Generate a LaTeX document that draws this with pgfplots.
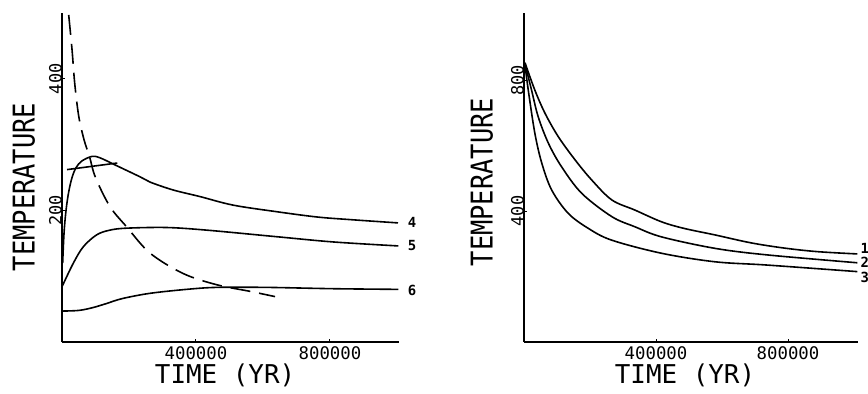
\documentclass[border=0pt]{standalone}
\usepackage{pgfplots}
\pgfplotsset{compat=1.18}
\usepackage{fontspec}
\setmainfont{DejaVu Sans Mono}

\tikzset{
  tag/.style={font=\fontsize{14}{14}\bfseries\selectfont, anchor=center},
  temp label/.style={font=\fontsize{25.5}{26}\selectfont, anchor=center},
  time label/.style={font=\fontsize{26}{27}\selectfont, anchor=center},
}

% shared look of the two cooling-history panels
\pgfplotsset{
  panel/.style={
    scale only axis,
    clip=false,
    axis x line=bottom, axis y line=left,
    x axis line style={-, line width=1.2bp},
    y axis line style={-, line width=1.2bp},
    xmin=0, ymin=0,
    width=337bp, height=329bp,
    scaled x ticks=false, scaled y ticks=false,
    xtick={400000,800000}, xticklabels={400000,800000},
    tick align=inside, major tick length=3bp,
    tick style={line width=1bp, black},
    xticklabel style={anchor=north, inner sep=0pt, yshift=-4.6bp,
      font=\fontsize{17.4}{18}\selectfont},
    yticklabel style={rotate=90, anchor=south, inner sep=0pt,
      font=\fontsize{17}{18}\selectfont},
    /pgf/number format/assume math mode=true,
    cycle list={{black}},
    every axis plot post/.append style={black, no markers, line width=1.6bp,
      smooth, tension=0.55},
  },
}

\begin{document}
\begin{tikzpicture}
\useasboundingbox (0bp,0bp) rectangle (868bp,394bp);

% ---------------- left panel: curves 4, 5, 6 ----------------
\begin{axis}[panel,
  at={(62bp,52bp)}, anchor=south west,
  xmax=1006000, ymax=500,
  ytick={200,400}, yticklabels={200,400},
  xlabel={TIME (YR)},
  xlabel style={time label, at={(axis description cs:0.484,-0.1)}},
  ylabel={\scalebox{1}[1.18]{TEMPERATURE}},
  ylabel style={temp label, at={(axis description cs:-0.113,0.471)}},
]
% curve 4
\addplot coordinates {
  (2000,120) (6000,165) (12000,200) (20000,228) (30000,250) (42000,265)
  (59000,275) (89000,282) (113000,280) (163000,268) (233000,251)
  (263000,243) (332000,231) (412000,221) (511000,208) (641000,198)
  (761000,190) (860000,186) (1003000,181)
};
% curve 5
\addplot coordinates {
  (0,84) (34000,120) (64000,145) (104000,163) (143000,170) (193000,173)
  (312000,174) (432000,170) (641000,160) (811000,152) (1004000,146)
};
% curve 6
\addplot coordinates {
  (0,47) (50000,48) (90000,52) (130000,58) (180000,66) (263000,74)
  (372000,80) (462000,83) (611000,83) (810000,81) (1004000,80)
};
% short straight stroke near the peak of curve 4
\addplot[line width=1bp, sharp plot] coordinates {(15000,262) (165000,272)};
% dashed curve
\addplot[dash pattern=on 20bp off 9bp] coordinates {
  (20000,497) (30000,444) (38000,393) (50000,343) (66000,307) (82000,282)
  (100000,250) (143000,206) (193000,175) (263000,135) (362000,104)
  (462000,87) (561000,77) (636000,69)
};
\node[tag] at (axis cs:1045000,181) {4};
\node[tag] at (axis cs:1045000,146) {5};
\node[tag] at (axis cs:1045000,79) {6};
\end{axis}

% ---------------- right panel: curves 1, 2, 3 ----------------
\begin{axis}[panel,
  at={(524bp,52bp)}, anchor=south west,
  width=334bp,
  xmax=1012000, ymax=1005,
  ytick={400,800}, yticklabels={400,800},
  xlabel={TIME (YR)},
  xlabel style={time label, at={(axis description cs:0.482,-0.1)}},
  ylabel={\scalebox{1}[1.18]{TEMPERATURE}},
  ylabel style={temp label, at={(axis description cs:-0.126,0.486)}},
]
% curve 1
\addplot coordinates {
  (3000,853) (33000,769) (64000,698) (104000,627) (155000,556)
  (205000,495) (266000,434) (336000,403) (417000,367) (485000,347)
  (579000,327) (687000,303) (788000,287) (889000,276) (1010000,269)
};
% curve 2
\addplot coordinates {
  (3000,850) (23000,769) (43000,688) (74000,607) (114000,535)
  (175000,454) (266000,383) (336000,352) (417000,321) (579000,286)
  (737000,266) (1010000,242)
};
% curve 3
\addplot coordinates {
  (3000,847) (13000,769) (33000,637) (54000,546) (84000,464)
  (134000,393) (195000,347) (266000,311) (417000,271) (579000,245)
  (737000,235) (1010000,215)
};
\node[tag] at (axis cs:1033000,287) {1};
\node[tag] at (axis cs:1033000,244) {2};
\node[tag] at (axis cs:1033000,198) {3};
\end{axis}
\end{tikzpicture}
\end{document}
